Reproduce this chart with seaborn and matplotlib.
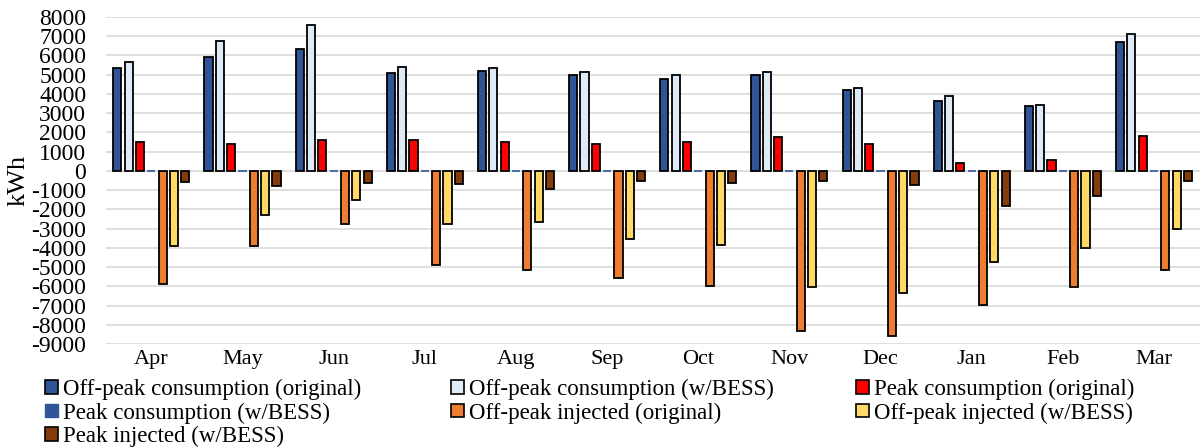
import matplotlib
matplotlib.use("Agg")
import matplotlib.pyplot as plt
from matplotlib.patches import Patch
import seaborn as sns
import pandas as pd

months = ["Apr", "May", "Jun", "Jul", "Aug", "Sep", "Oct", "Nov", "Dec", "Jan", "Feb", "Mar"]
series = ["Off-peak consumption (original)", "Off-peak consumption (w/BESS)",
          "Peak consumption (original)", "Peak consumption (w/BESS)",
          "Off-peak injected (original)", "Off-peak injected (w/BESS)",
          "Peak injected (w/BESS)"]

offpeak_cons_orig = [5340, 5910, 6320, 5100, 5180, 5010, 4770, 4980, 4210, 3640, 3350, 6700]
offpeak_cons_bess = [5670, 6760, 7590, 5410, 5370, 5150, 4980, 5120, 4330, 3880, 3420, 7120]
peak_cons_orig = [1480, 1420, 1600, 1600, 1510, 1420, 1510, 1770, 1390, 390, 580, 1840]
peak_cons_bess = [0, 0, 0, 0, 0, 0, 0, 0, 0, 0, 0, 0]
offpeak_inj_orig = [-5850, -3910, -2760, -4910, -5170, -5560, -5970, -8330, -8550, -6950, -6010, -5130]
offpeak_inj_bess = [-3910, -2280, -1490, -2760, -2640, -3520, -3830, -6030, -6320, -4720, -3980, -3000]
peak_inj_bess = [-570, -770, -600, -690, -960, -500, -600, -500, -740, -1800, -1300, -530]

values = [offpeak_cons_orig, offpeak_cons_bess, peak_cons_orig, peak_cons_bess,
          offpeak_inj_orig, offpeak_inj_bess, peak_inj_bess]

colors = ["#2F5597", "#DEEBF7", "#FF0000", "#2F5597", "#ED7D31", "#FFD966", "#843C0C"]

rows = []
for s, vals in zip(series, values):
    for m, v in zip(months, vals):
        rows.append({"Month": m, "Series": s, "kWh": v})
df = pd.DataFrame(rows)

sns.set_theme(style="white")
plt.rcParams["font.family"] = ["Liberation Serif", "DejaVu Serif"]
plt.rcParams["text.color"] = "black"
plt.rcParams["axes.labelcolor"] = "black"
plt.rcParams["axes.unicode_minus"] = False

fig = plt.figure(figsize=(12.02, 4.47), dpi=100)
ax = fig.add_axes([0.088, 0.230, 0.910, 0.732])

sns.barplot(data=df, x="Month", y="kWh", hue="Series", order=months, hue_order=series,
            palette=colors, saturation=1, width=0.87, gap=0.28, legend=False, ax=ax, zorder=3)

for i, cont in enumerate(ax.containers):
    for p in cont.patches:
        if series[i] == "Peak consumption (w/BESS)":
            p.set_edgecolor(colors[i])
            p.set_linewidth(1.2)
        else:
            p.set_edgecolor("black")
            p.set_linewidth(1.3)

ax.set_ylim(-9000, 8000)
ax.set_yticks(range(-9000, 8001, 1000))
ax.set_xlim(-0.5, 11.5)
ax.yaxis.grid(True, color="#D9D9D9", linewidth=1.2, zorder=0)
ax.xaxis.grid(False)
for sp in ax.spines.values():
    sp.set_visible(False)
ax.tick_params(axis="both", length=0, colors="black")
ax.tick_params(axis="y", pad=14, labelsize=17)
ax.tick_params(axis="x", pad=4, labelsize=16)
ax.set_xlabel("")
ax.set_ylabel("kWh", fontsize=19, labelpad=1, color="black")

handles = []
for s, c in zip(series, colors):
    if s == "Peak consumption (w/BESS)":
        handles.append(Patch(facecolor=c, edgecolor=c, linewidth=1.0, label=s))
    else:
        handles.append(Patch(facecolor=c, edgecolor="black", linewidth=1.2, label=s))

columns = [[0, 3, 6], [1, 4], [2, 5]]
col_x = [45 / 1202, 451 / 1202, 856 / 1202]
for idx, x in zip(columns, col_x):
    fig.legend([handles[i] for i in idx], [series[i] for i in idx],
               loc="upper left", bbox_to_anchor=(x, 1 - 379 / 447), ncol=1, frameon=False,
               fontsize=16.5, handlelength=0.57, handleheight=0.55, handletextpad=0.2,
               labelspacing=0.1, borderpad=0, borderaxespad=0, labelcolor="black")

fig.savefig("out.png", dpi=100)
